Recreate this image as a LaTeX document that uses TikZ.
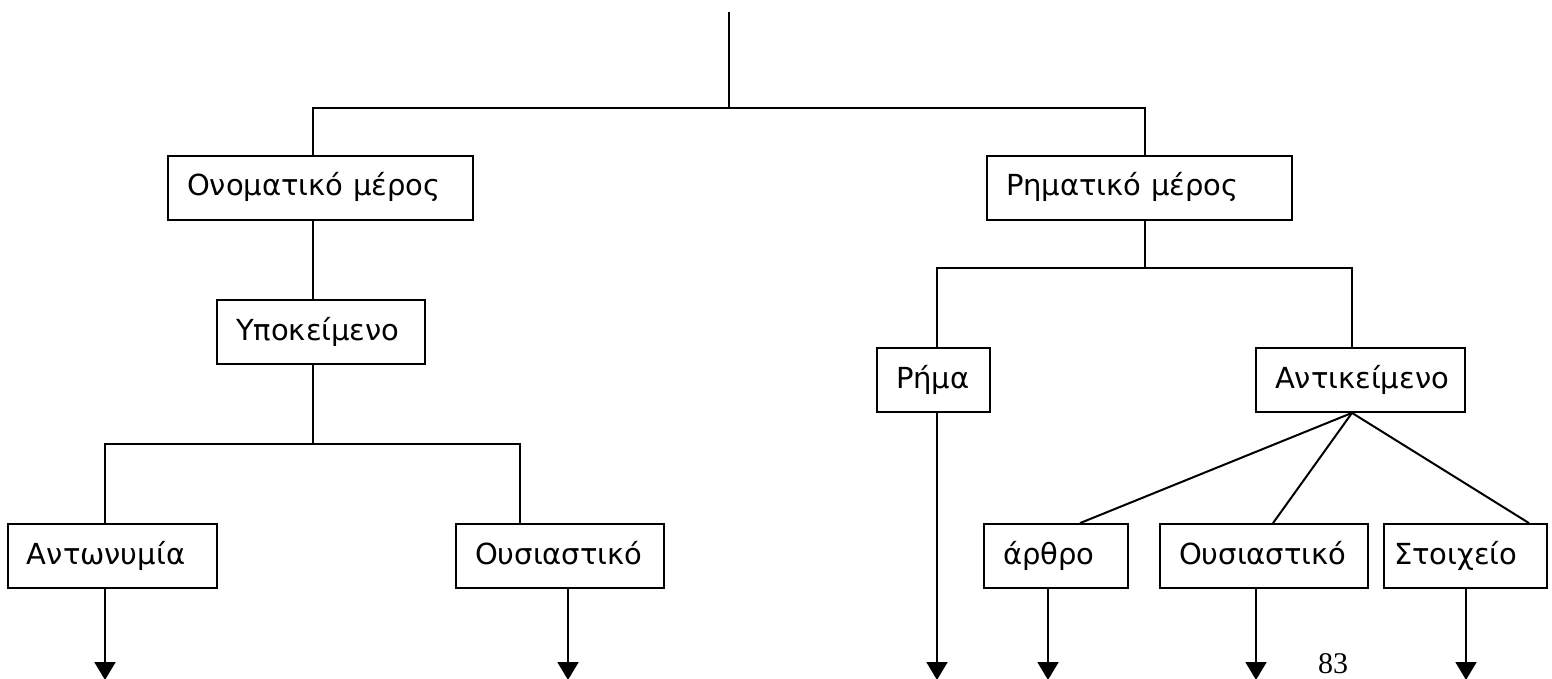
\documentclass[tikz,border=0pt]{standalone}
\usepackage{fontspec}
\setmainfont{DejaVu Sans}
\newfontfamily\pagenumfont{Liberation Serif}
\usetikzlibrary{arrows.meta}
\tikzset{
  box/.style={draw, line width=1.8pt, inner xsep=19pt, inner ysep=0pt,
    minimum height=64pt, align=left, text height=23pt, text depth=7pt,
    font=\fontsize{29}{34}\selectfont},
  conn/.style={line width=2pt},
  arr/.style={line width=2pt, -{Triangle[length=18pt,width=21pt]}},
}
\begin{document}
\begin{tikzpicture}[x=1pt,y=-1pt]
\useasboundingbox (0,0) rectangle (1552,679);
% boxes (text width = box width - 2*19)
\node[box, text width=267pt] (onom) at (320.5,188) {Ονοματικό μέρος};
\node[box, text width=267pt] (rim) at (1139.5,188) {Ρηματικό μέρος};
\node[box, text width=170pt] (ypo) at (321,332) {Υποκείμενο};
\node[box, text width=171pt] (ant) at (112.5,556) {Αντωνυμία};
\node[box, text width=170pt] (ous1) at (560,556) {Ουσιαστικό};
\node[box, text width=75pt] (rima) at (933.5,380) {Ρήμα};
\node[box, text width=171pt] (antik) at (1360.5,380) {Αντικείμενο};
\node[box, text width=106pt] (arthro) at (1056,556) {άρθρο};
\node[box, text width=170pt] (ous2) at (1264,556) {Ουσιαστικό};
\node[box, inner xsep=10pt, text width=143pt] (stoix) at (1465.5,556) {Στοιχείο};
\node[font=\pagenumfont\fontsize{30}{34}\selectfont, anchor=base, inner sep=0pt] (pnum) at (1333,673) {83};
% helper coordinates
\coordinate (top) at (728.5,12);
\coordinate (j0) at (728.5,108);
\coordinate (cA) at (313,0);
\coordinate (cB) at (1145,0);
\coordinate (cC) at (105,0);
\coordinate (cD) at (520,0);
\coordinate (cE) at (937,0);
\coordinate (cF) at (1352,0);
\coordinate (j1) at (313,444);
\coordinate (j2) at (1145,268);
\coordinate (pA) at (1080,0);
\coordinate (pB) at (1273,0);
\coordinate (pC) at (1529,0);
\coordinate (e1) at (105,680);
\coordinate (e2) at (568,680);
\coordinate (e3) at (937,680);
\coordinate (e4) at (1048,680);
\coordinate (e5) at (1256,680);
\coordinate (e6) at (1466,680);
% connectors
\draw[conn] (top) -- (j0);
\draw[conn] (onom.north -| cA) |- (j0) -| (rim.north -| cB);
\draw[conn] (onom.south -| cA) -- (ypo.north -| cA);
\draw[conn] (ypo.south -| cA) -- (j1);
\draw[conn] (ant.north -| cC) |- (j1) -| (ous1.north -| cD);
\draw[conn] (rim.south -| cB) -- (j2);
\draw[conn] (rima.north -| cE) |- (j2) -| (antik.north -| cF);
\draw[conn] (antik.south -| cF) -- (arthro.north -| pA);
\draw[conn] (antik.south -| cF) -- (ous2.north -| pB);
\draw[conn] (antik.south -| cF) -- (stoix.north -| pC);
\draw[arr] (ant.south -| e1) -- (e1);
\draw[arr] (ous1.south -| e2) -- (e2);
\draw[arr] (rima.south -| e3) -- (e3);
\draw[arr] (arthro.south -| e4) -- (e4);
\draw[arr] (ous2.south -| e5) -- (e5);
\draw[arr] (stoix.south -| e6) -- (e6);
\end{tikzpicture}
\end{document}
